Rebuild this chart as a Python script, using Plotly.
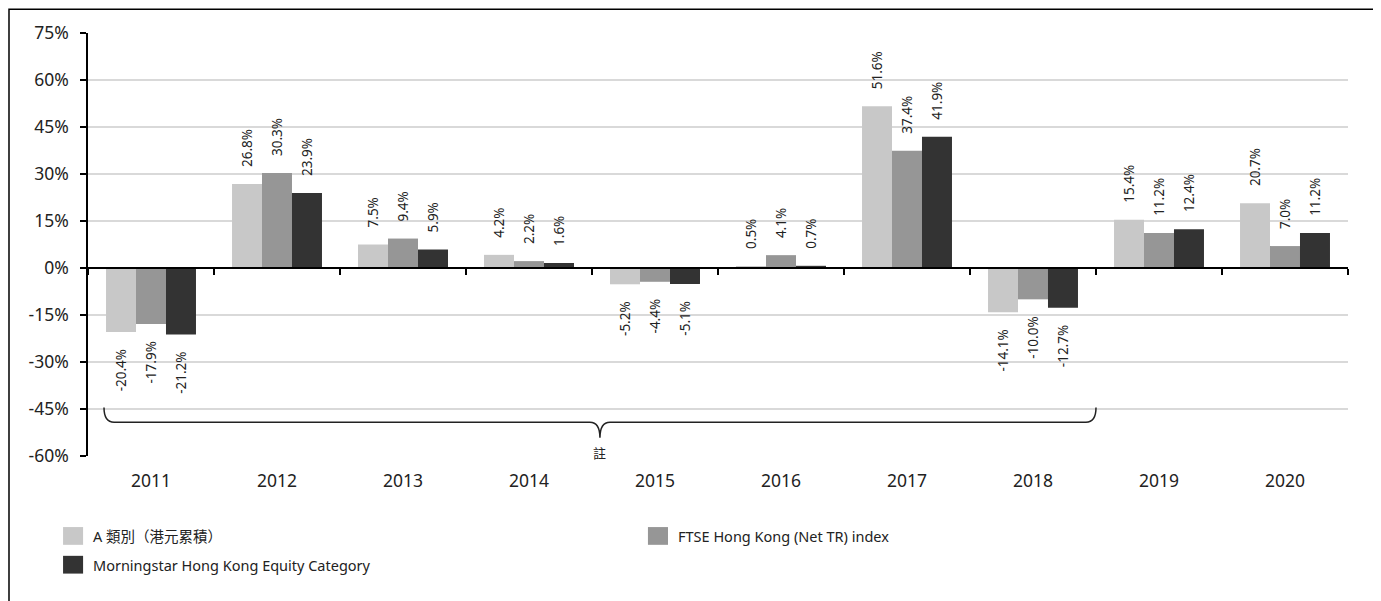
import plotly.graph_objects as go

years = ["2011", "2012", "2013", "2014", "2015", "2016", "2017", "2018", "2019", "2020"]
series_names = ["A 類別（港元累積）", "FTSE Hong Kong (Net TR) index", "Morningstar Hong Kong Equity Category"]
class_a = [-20.4, 26.8, 7.5, 4.2, -5.2, 0.5, 51.6, -14.1, 15.4, 20.7]
ftse = [-17.9, 30.3, 9.4, 2.2, -4.4, 4.1, 37.4, -10.0, 11.2, 7.0]
morningstar = [-21.2, 23.9, 5.9, 1.6, -5.1, 0.7, 41.9, -12.7, 12.4, 11.2]
colors = ["#c8c8c8", "#969696", "#333333"]
y_ticks = [-60, -45, -30, -15, 0, 15, 30, 45, 60, 75]
note_text = "註"

FONT = "Noto Sans, Open Sans, Noto Sans CJK TC, sans-serif"
NB = "\u00a0"


def label(v):
    s = f"{v:.1f}%"
    return NB * 4 + s if v >= 0 else s + NB * 4


fig = go.Figure()
for name, vals, col in zip(series_names, [class_a, ftse, morningstar], colors):
    fig.add_trace(go.Bar(
        x=years, y=vals, name=name,
        marker=dict(color=col, line=dict(width=0)),
        text=[label(v) for v in vals],
        textposition="outside", textangle=-90,
        textfont=dict(family=FONT, size=13.5, color="#222222"),
        constraintext="none", cliponaxis=False,
        showlegend=False, hoverinfo="skip",
    ))

# helper trace for the zero-crossing category axis (ticks at boundaries)
fig.add_trace(go.Scatter(x=years, y=[0] * len(years), xaxis="x2", yaxis="y",
                         mode="markers", marker=dict(opacity=0), showlegend=False,
                         hoverinfo="skip"))

ymin, ymax = y_ticks[0], y_ticks[-1]
zero_pos = (0 - ymin) / (ymax - ymin)

shapes = []
# outer frame
shapes.append(dict(type="rect", xref="paper", yref="paper", x0=-0.0627, x1=1.0214,
                   y0=-0.45, y1=1.0561, line=dict(color="#000000", width=1.5),
                   layer="above"))

# brace under 2011-2018
xl, xc, xr, dx = 0.0127, 0.4063, 0.8, 0.008
yt, yh, yp = -44.5, -49.2, -54.2
path = (f"M{xl},{yt} Q{xl},{yh} {xl+dx},{yh} L{xc-dx},{yh} Q{xc},{yh} {xc},{yp} "
        f"Q{xc},{yh} {xc+dx},{yh} L{xr-dx},{yh} Q{xr},{yh} {xr},{yt}")
shapes.append(dict(type="path", xref="paper", yref="y", path=path,
                   line=dict(color="#222222", width=1.5)))

# custom legend swatches
leg = [(-0.0198, -0.168, 0), (0.4444, -0.168, 1), (-0.0198, -0.236, 2)]
annotations = []
for x0, y0, i in leg:
    shapes.append(dict(type="rect", xref="paper", yref="paper", x0=x0, x1=x0 + 0.0159,
                       y0=y0 - 0.042, y1=y0, fillcolor=colors[i], line=dict(width=0)))
    annotations.append(dict(xref="paper", yref="paper", x=x0 + 0.0225, y=y0 - 0.021,
                            xanchor="left", yanchor="middle", showarrow=False,
                            text=series_names[i],
                            font=dict(family=FONT, size=14.5, color="#222222")))

annotations.append(dict(xref="paper", yref="y", x=xc, y=-59, text=note_text,
                        showarrow=False, xanchor="center", yanchor="middle",
                        font=dict(family="Noto Sans CJK TC", size=13, color="#222222")))

fig.update_layout(
    width=1381, height=601,
    margin=dict(l=80, r=41, t=20, b=153),
    paper_bgcolor="white", plot_bgcolor="white",
    barmode="group", bargap=0.286, bargroupgap=0,
    font=dict(family=FONT, size=15, color="#222222"),
    xaxis=dict(type="category", categoryorder="array", categoryarray=years,
               range=[-0.5, 9.5], showline=False, ticks="", showgrid=False,
               zeroline=False, ticklabelstandoff=12,
               tickfont=dict(family=FONT, size=17.5, color="#222222")),
    xaxis2=dict(type="category", categoryorder="array", categoryarray=years,
                range=[-0.5, 9.5], overlaying="x", anchor="free", position=zero_pos,
                showline=True, linecolor="#000000", linewidth=1.5, ticks="outside",
                ticklen=6, tickcolor="#000000", tickwidth=1.5, tickson="boundaries",
                showticklabels=False, showgrid=False, zeroline=False),
    yaxis=dict(range=[ymin, ymax], tickvals=y_ticks, ticktext=[f"{t}%" for t in y_ticks],
               showline=True, linecolor="#000000", linewidth=1.5, ticks="outside",
               ticklen=6, tickcolor="#000000", tickwidth=1.5, ticklabelstandoff=8,
               showgrid=True, gridcolor="#d9d9d9", gridwidth=1.5, zeroline=False,
               tickfont=dict(family=FONT, size=17.5, color="#222222")),
    shapes=shapes, annotations=annotations,
)

fig.write_html("out.html")
